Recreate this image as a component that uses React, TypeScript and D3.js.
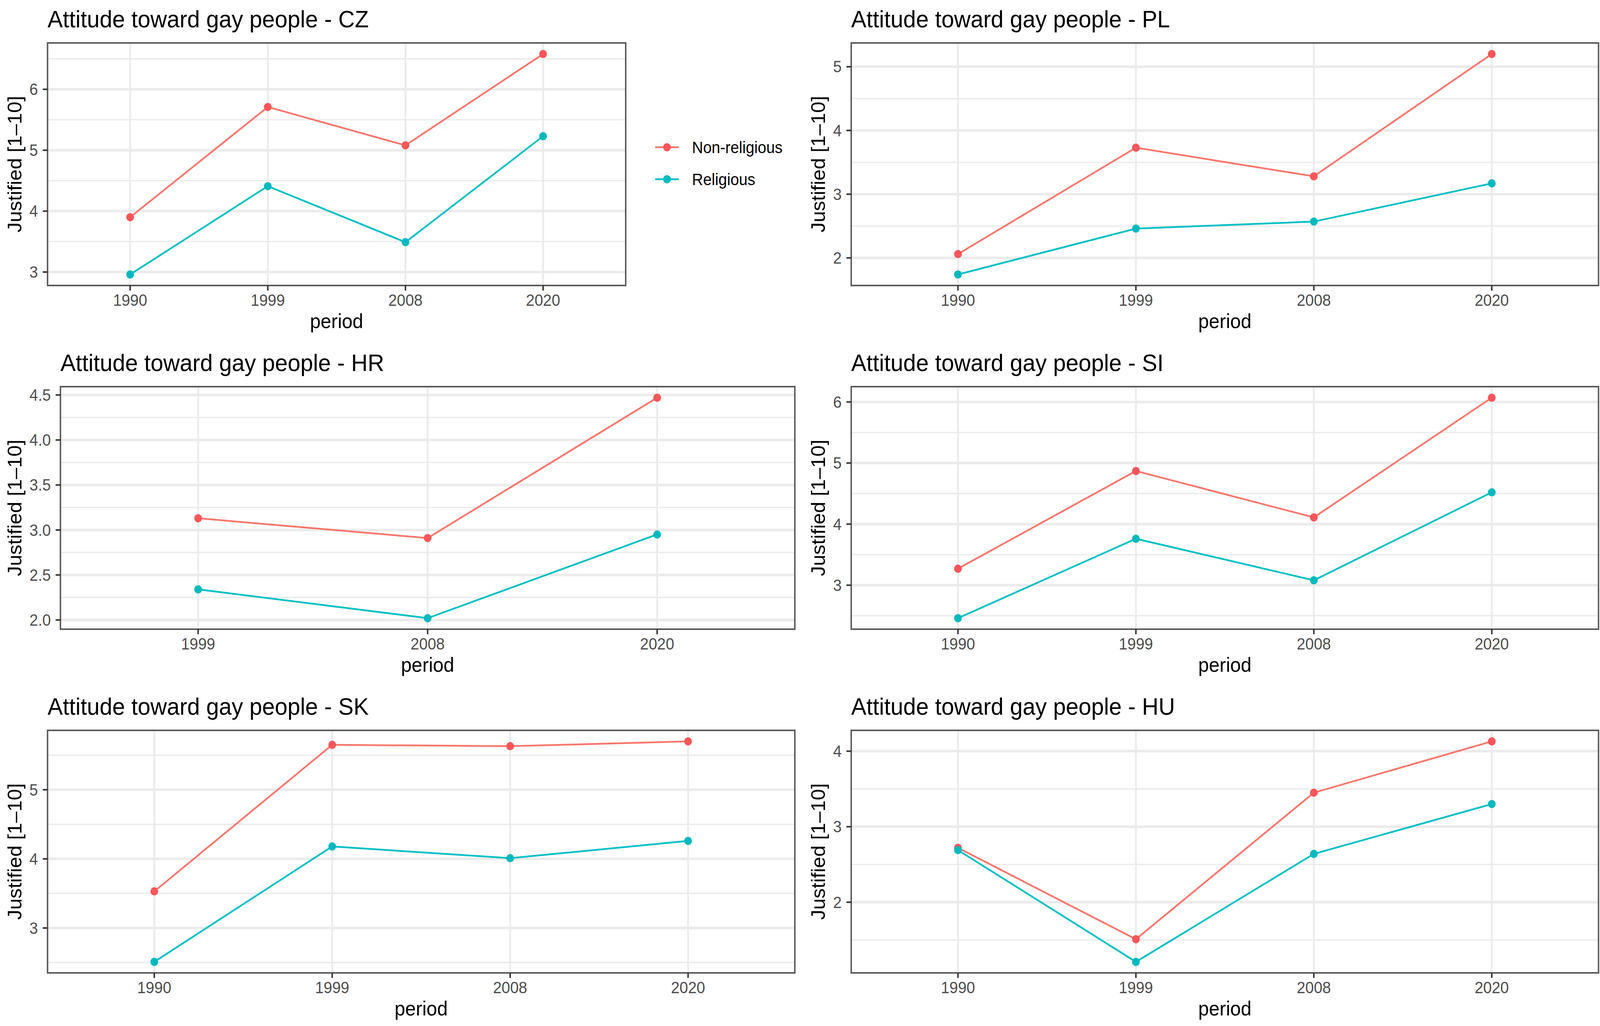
import * as d3 from "d3"

// periods (discrete x axis)
const periods = ["1990", "1999", "2008", "2020"]
const periodsHR = ["1999", "2008", "2020"]

const seriesNames = ["Non-religious", "Religious"]

// mean "Justified [1-10]" per period
const czNonReligious = [3.9, 5.71, 5.08, 6.58]
const czReligious = [2.96, 4.41, 3.49, 5.23]
const plNonReligious = [2.06, 3.73, 3.28, 5.2]
const plReligious = [1.74, 2.46, 2.57, 3.17]
const hrNonReligious = [3.13, 2.91, 4.47]
const hrReligious = [2.34, 2.02, 2.95]
const siNonReligious = [3.27, 4.87, 4.11, 6.07]
const siReligious = [2.46, 3.76, 3.08, 4.52]
const skNonReligious = [3.53, 5.65, 5.63, 5.7]
const skReligious = [2.51, 4.18, 4.01, 4.26]
const huNonReligious = [2.72, 1.51, 3.45, 4.13]
const huReligious = [2.69, 1.21, 2.64, 3.3]

const W = 4342
const H = 2627
const FONT = "'Liberation Sans', Arial, Helvetica, sans-serif"
const COLORS = ["#F8766D", "#00BFC4"]
const POINT_COLORS = ["#F7565A", "#00B9BE"]

const panels = [
  { code: "CZ", x: periods, a: czNonReligious, b: czReligious, col: 0, row: 0, left: 129, right: 1698, legend: true },
  { code: "PL", x: periods, a: plNonReligious, b: plReligious, col: 1, row: 0, left: 129, right: 2157 },
  { code: "HR", x: periodsHR, a: hrNonReligious, b: hrReligious, col: 0, row: 1, left: 164, right: 2157 },
  { code: "SI", x: periods, a: siNonReligious, b: siReligious, col: 1, row: 1, left: 129, right: 2157 },
  { code: "SK", x: periods, a: skNonReligious, b: skReligious, col: 0, row: 2, left: 129, right: 2157 },
  { code: "HU", x: periods, a: huNonReligious, b: huReligious, col: 1, row: 2, left: 129, right: 2157 },
]

const colX = [0, 2181]
const rowY = [0, 880, 1760]

function Panel({ p }: { p: any }) {
  const ox = colX[p.col]
  const oy = rowY[p.row]
  const left = ox + p.left
  const right = ox + p.right
  const top = oy + 110
  const bottom = oy + 731

  const all = [...p.a, ...p.b]
  const [lo, hi] = d3.extent(all) as [number, number]
  const pad = (hi - lo) * 0.05
  const y = d3.scaleLinear().domain([lo - pad, hi + pad]).range([bottom, top])
  const x = d3.scalePoint<string>().domain(p.x).range([left, right]).padding(0.6)

  const major = y.ticks(4)
  const step = major[1] - major[0]
  const minor = [major[0] - step / 2, ...major.map((t) => t + step / 2)].filter(
    (t) => t > y.domain()[0] && t < y.domain()[1]
  )
  const fmt = step < 1 ? d3.format(".1f") : d3.format("d")

  const line = d3
    .line<number>()
    .x((_, i) => x(p.x[i]) as number)
    .y((d) => y(d))

  return (
    <g>
      <text x={left} y={oy + 70} fontSize={62} fill="#000" fontFamily={FONT}>
        {`Attitude toward gay people - ${p.code}`}
      </text>
      <rect x={left} y={top} width={right - left} height={bottom - top} fill="#fff" />
      {minor.map((t) => (
        <line key={"mn" + t} x1={left} x2={right} y1={y(t)} y2={y(t)} stroke="#EBEBEB" strokeWidth={3.4} />
      ))}
      {major.map((t) => (
        <line key={"mj" + t} x1={left} x2={right} y1={y(t)} y2={y(t)} stroke="#EBEBEB" strokeWidth={6.5} />
      ))}
      {p.x.map((c: string) => (
        <line key={"vx" + c} x1={x(c)} x2={x(c)} y1={top} y2={bottom} stroke="#EBEBEB" strokeWidth={5} />
      ))}
      {[p.a, p.b].map((vals: number[], k: number) => (
        <path key={"l" + k} d={line(vals) as string} fill="none" stroke={COLORS[k]} strokeWidth={4.5} />
      ))}
      {[p.a, p.b].map((vals: number[], k: number) =>
        vals.map((v, i) => (
          <circle key={"p" + k + i} cx={x(p.x[i])} cy={y(v)} r={10.5} fill={POINT_COLORS[k]} />
        ))
      )}
      <rect x={left} y={top} width={right - left} height={bottom - top} fill="none" stroke="#5a5a5a" strokeWidth={4} />
      {major.map((t) => (
        <g key={"yt" + t}>
          <line x1={left - 13} x2={left} y1={y(t)} y2={y(t)} stroke="#333" strokeWidth={4} />
          <text x={left - 26} y={y(t)} dy="0.35em" textAnchor="end" fontSize={41.7} fill="#4D4D4D" fontFamily={FONT}>
            {fmt(t)}
          </text>
        </g>
      ))}
      {p.x.map((c: string) => (
        <g key={"xt" + c}>
          <line x1={x(c)} x2={x(c)} y1={bottom} y2={bottom + 13} stroke="#333" strokeWidth={4} />
          <text x={x(c)} y={oy + 783} textAnchor="middle" fontSize={41.7} fill="#4D4D4D" fontFamily={FONT}>
            {c}
          </text>
        </g>
      ))}
      <text x={(left + right) / 2} y={oy + 840} textAnchor="middle" fontSize={52} fill="#000" fontFamily={FONT}>
        period
      </text>
      <text
        transform={`translate(${ox + 58},${(top + bottom) / 2}) rotate(-90)`}
        textAnchor="middle"
        fontSize={52}
        fill="#000"
        fontFamily={FONT}
      >
        Justified [1–10]
      </text>
      {p.legend &&
        seriesNames.map((s, k) => {
          const ly = oy + 377 + k * 82
          return (
            <g key={"lg" + s}>
              <line x1={right + 80} x2={right + 144} y1={ly} y2={ly} stroke={COLORS[k]} strokeWidth={4.5} />
              <circle cx={right + 112} cy={ly} r={10.5} fill={POINT_COLORS[k]} />
              <text x={right + 180} y={ly} dy="0.35em" fontSize={41.7} fill="#000" fontFamily={FONT}>
                {s}
              </text>
            </g>
          )
        })}
    </g>
  )
}

export default function App() {
  // the browser window may be narrower than the chart, so fit the drawing to it
  return (
    <svg
      viewBox={`0 0 ${W} ${H}`}
      preserveAspectRatio="none"
      style={{ position: "absolute", left: 0, top: 0, width: "100vw", height: "100vh", background: "#fff" }}
    >
      <rect width={W} height={H} fill="#fff" />
      {panels.map((p) => (
        <Panel key={p.code} p={p} />
      ))}
    </svg>
  )
}
